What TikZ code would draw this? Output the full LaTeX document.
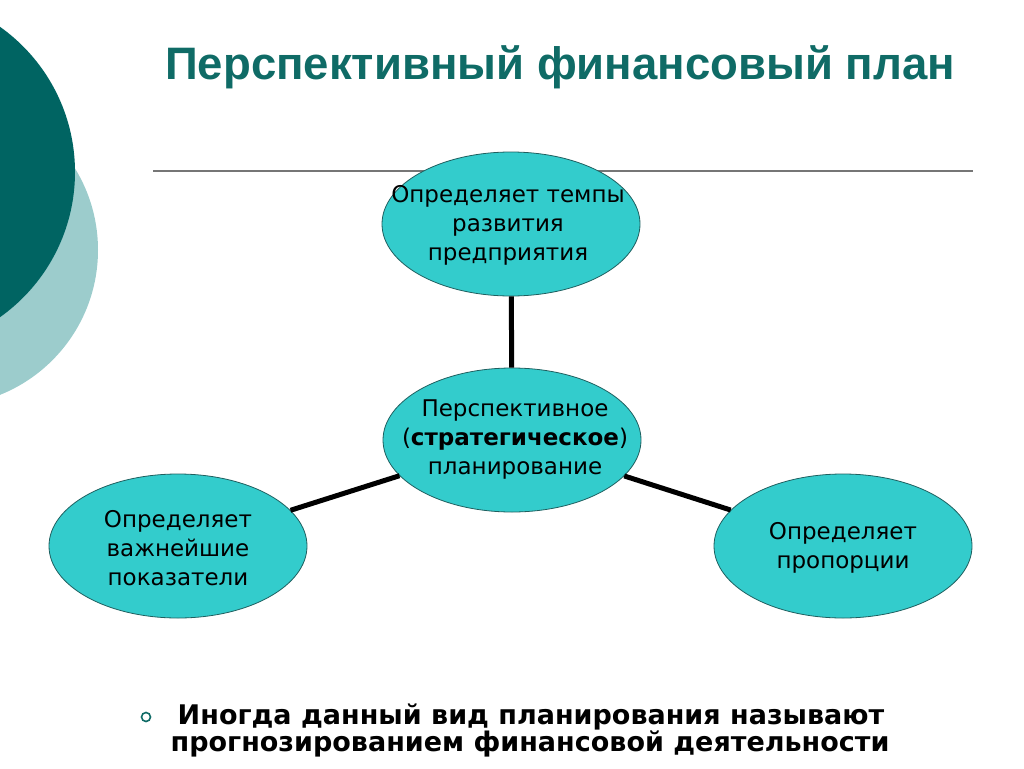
\documentclass[tikz,border=0pt]{standalone}
\usepackage{fontspec}
\setmainfont{DejaVu Sans}
\newfontfamily\titlefont{Liberation Sans}
\usetikzlibrary{shapes.geometric}
\definecolor{darkteal}{HTML}{006462}
\definecolor{lightteal}{HTML}{9CCCCC}
\definecolor{ellfill}{HTML}{33CCCC}
\definecolor{ellline}{HTML}{1F5F5F}
\definecolor{titlecol}{HTML}{0F6B66}
\definecolor{rulecol}{HTML}{767676}
\tikzset{
  ell/.style={shape=ellipse, draw=ellline, line width=0.8pt, fill=ellfill,
    minimum width=258pt, minimum height=144pt, inner sep=0pt},
  elltext/.style={align=center, inner sep=0pt, text=black,
    font=\fontsize{23}{29}\selectfont},
  conn/.style={draw=black, line width=5pt},
  notetext/.style={inner sep=0pt, anchor=base, font=\bfseries\fontsize{27}{27}\selectfont},
}
\begin{document}
\begin{tikzpicture}[x=1pt,y=-1pt]
\useasboundingbox (0,0) rectangle (1024,768);
\begin{scope}
\clip (0,0) rectangle (1024,768);
\fill[lightteal] (-58,250) circle (156);
\fill[darkteal] (-103,172) circle (178);
\end{scope}
% title
\node[anchor=base west, inner sep=0pt, text=titlecol,
  font=\titlefont\bfseries\fontsize{45.5}{45.5}\selectfont] (title) at (165,79)
  {Перспективный финансовый план};
% rule
\coordinate (ruleL) at (153,171);
\coordinate (ruleR) at (973,171);
\draw[rulecol, line width=1.6pt] (ruleL) -- (ruleR);
% ellipses
\node[ell] (top) at (511,224) {};
\node[ell] (mid) at (512,440) {};
\node[ell] (left) at (178,546) {};
\node[ell] (right) at (843,546) {};
% connectors
\draw[conn] (top) -- (mid);
\draw[conn] (mid) -- (left);
\draw[conn] (mid) -- (right);
% texts
\node[elltext] (topt) at (508,225) {Определяет темпы\\развития\\предприятия};
\node[elltext] (midt) at (515,440) {Перспективное\\(\textbf{стратегическое})\\планирование};
\node[elltext] (leftt) at (178,548) {Определяет\\важнейшие\\показатели};
\node[elltext] (rightt) at (843,548) {Определяет\\пропорции};
% bullet and note
\node[circle, draw=titlecol, line width=1.6pt, minimum size=9pt, inner sep=0pt] (bul) at (146,717) {};
\node[notetext] (note1) at (531,724) {Иногда данный вид планирования называют};
\node[notetext] (note2) at (530,751) {прогнозированием финансовой деятельности};
\end{tikzpicture}
\end{document}
